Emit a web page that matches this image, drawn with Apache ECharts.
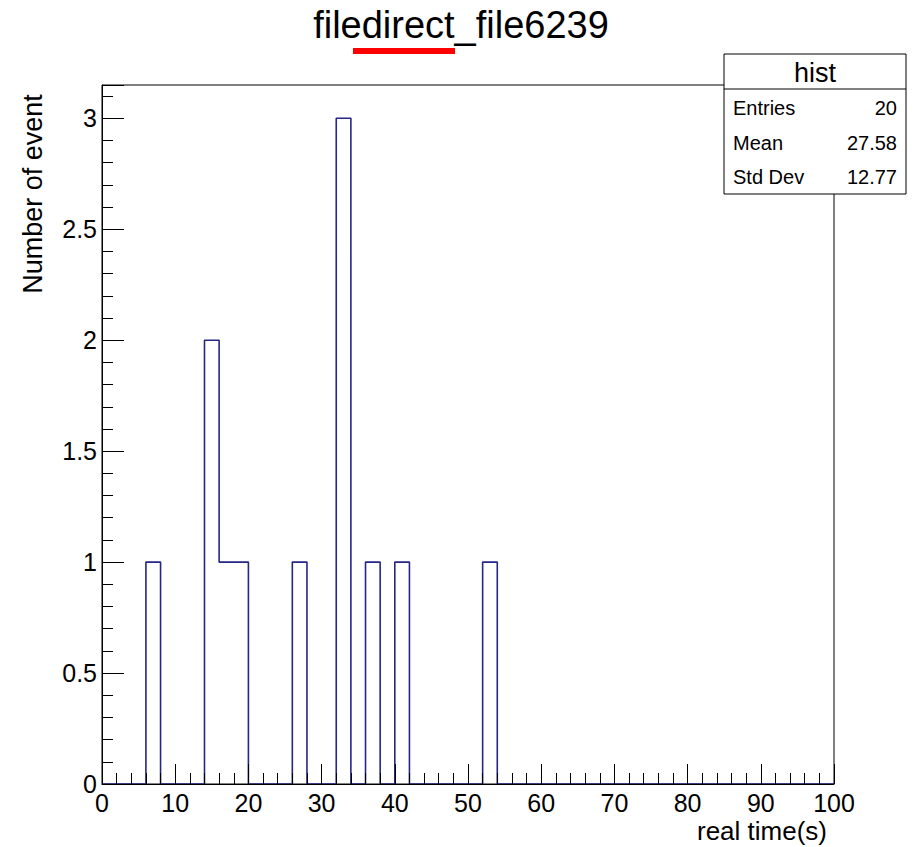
<!DOCTYPE html>
<html>
<head>
<meta charset="utf-8">
<title>filedirect_file6239</title>
<script src="https://cdn.jsdelivr.net/npm/echarts@6/dist/echarts.min.js"></script>
<style>
  html, body { margin: 0; padding: 0; background: #ffffff; }
  #chart { width: 916px; height: 847px; }
</style>
</head>
<body>
<div id="chart"></div>
<script>
// Histogram of real time (s): 50 bins of width 2 from 0 to 100
const histTitle = 'filedirect_file6239';
const xTitle = 'real time(s)';
const yTitle = 'Number of event';
const binLow = 0;
const binWidth = 2;
const binCounts = [
  0, 0, 0, 1, 0, 0, 0, 2, 1, 1,
  0, 0, 0, 1, 0, 0, 3, 0, 1, 0,
  1, 0, 0, 0, 0, 0, 1, 0, 0, 0,
  0, 0, 0, 0, 0, 0, 0, 0, 0, 0,
  0, 0, 0, 0, 0, 0, 0, 0, 0, 0
];
const statsName = 'hist';
const statsLabels = ['Entries', 'Mean', 'Std Dev'];
const statsValues = ['20', '27.58', '12.77'];

// Step outline: one point at each bin's low edge, closed at the upper edge
const xMax = binLow + binWidth * binCounts.length;
const outline = [[binLow, 0]];
binCounts.forEach((c, i) => outline.push([binLow + i * binWidth, c]));
outline.push([xMax, 0]);

const font = '"Liberation Sans", Arial, Helvetica, sans-serif';
const chart = echarts.init(document.getElementById('chart'), null, { renderer: 'svg' });

const statsTop = 54, statsLeft = 724, statsW = 182, statsH = 140, statsHead = 35;
const statsRows = statsLabels.map((lab, i) => ({
  y: 108 + i * 34.5, lab, val: statsValues[i]
}));

chart.setOption({
  animation: false,
  backgroundColor: '#ffffff',
  grid: {
    left: 102, top: 85, right: 82, bottom: 63,
    show: true, borderColor: '#000', borderWidth: 1, backgroundColor: 'transparent'
  },
  xAxis: {
    type: 'value', min: binLow, max: xMax, interval: 10, z: 5,
    axisLine: { show: true, onZero: false, lineStyle: { color: '#000', width: 1 } },
    axisTick: { show: true, inside: true, length: 20, lineStyle: { color: '#000', width: 1 } },
    minorTick: { show: true, splitNumber: 5, length: 11, lineStyle: { color: '#000', width: 1 } },
    splitLine: { show: false },
    axisLabel: { color: '#000', fontSize: 25, fontFamily: font, margin: 6 }
  },
  yAxis: {
    type: 'value', min: 0, max: 3.15, interval: 0.5, z: 5,
    axisLine: { show: true, lineStyle: { color: '#000', width: 1 } },
    axisTick: { show: true, inside: true, length: 22, lineStyle: { color: '#000', width: 1 } },
    minorTick: { show: true, splitNumber: 5, length: 11, lineStyle: { color: '#000', width: 1 } },
    splitLine: { show: false },
    axisLabel: { color: '#000', fontSize: 25, fontFamily: font, margin: 5, showMaxLabel: false }
  },
  series: [{
    type: 'line',
    step: 'end',
    data: outline,
    symbol: 'none',
    z: 2,
    lineStyle: { color: '#262688', width: 1.6 }
  }],
  graphic: [
    { type: 'text', x: 461, y: 25, z: 50,
      style: { text: histTitle, font: '38px ' + font, fill: '#000', align: 'center', verticalAlign: 'middle' } },
    { type: 'rect', x: 353, y: 48, z: 51, shape: { width: 102, height: 6 }, style: { fill: '#ff0000' } },
    { type: 'text', x: 33, y: 194, rotation: Math.PI / 2, z: 50,
      style: { text: yTitle, font: '27px ' + font, fill: '#000', align: 'center', verticalAlign: 'middle' } },
    { type: 'text', x: 827, y: 831, z: 50,
      style: { text: xTitle, font: '26px ' + font, fill: '#000', align: 'right', verticalAlign: 'middle' } },
    { type: 'rect', x: statsLeft, y: statsTop, z: 100,
      shape: { width: statsW, height: statsH }, style: { fill: '#fff', stroke: '#000', lineWidth: 1 } },
    { type: 'line', z: 101,
      shape: { x1: statsLeft, y1: statsTop + statsHead, x2: statsLeft + statsW, y2: statsTop + statsHead },
      style: { stroke: '#000', lineWidth: 1 } },
    { type: 'text', x: statsLeft + statsW / 2, y: statsTop + statsHead / 2 + 1, z: 102,
      style: { text: statsName, font: '27px ' + font, fill: '#000', align: 'center', verticalAlign: 'middle' } }
  ].concat(statsRows.flatMap(r => [
    { type: 'text', x: 733, y: r.y, z: 102,
      style: { text: r.lab, font: '20px ' + font, fill: '#000', align: 'left', verticalAlign: 'middle' } },
    { type: 'text', x: 897, y: r.y, z: 102,
      style: { text: r.val, font: '20px ' + font, fill: '#000', align: 'right', verticalAlign: 'middle' } }
  ]))
});
</script>
</body>
</html>
